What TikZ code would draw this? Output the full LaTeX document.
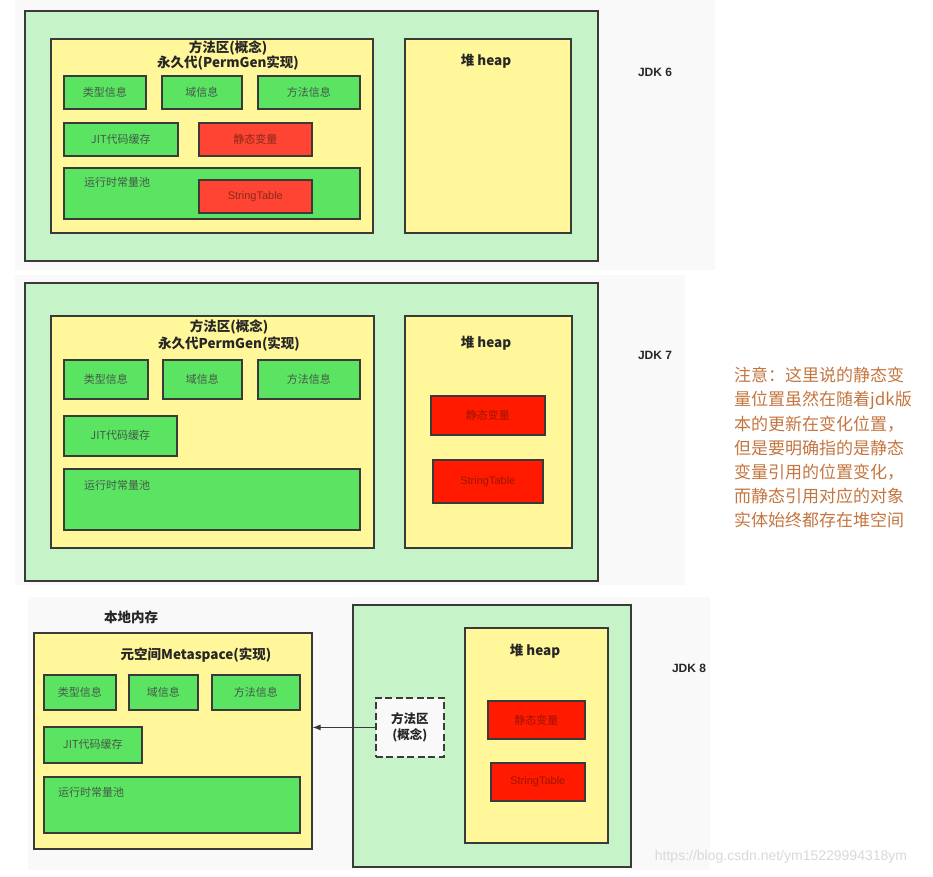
\documentclass[tikz,border=0pt]{standalone}
\usepackage{fontspec}
\setmainfont{Noto Sans CJK SC}
\newfontfamily\wmfont{Liberation Sans}
\usetikzlibrary{arrows.meta}
\definecolor{outerg}{HTML}{C6F4C8}
\definecolor{yel}{HTML}{FFF799}
\definecolor{gbox}{HTML}{5BE462}
\definecolor{rboxa}{HTML}{FF4433}
\definecolor{rboxb}{HTML}{FF1A00}
\definecolor{bd}{HTML}{3A3A3A}
\definecolor{notec}{HTML}{C47640}
\definecolor{bgl}{HTML}{F9F9F9}
\definecolor{labc}{HTML}{44584A}
\definecolor{rlab}{HTML}{8A2A1A}
\definecolor{rlabb}{HTML}{A01500}
\definecolor{wm}{HTML}{D9D9D9}
\newcommand{\bx}[7]{\node[#6, anchor=north west, inner sep=0pt, minimum width=#4pt-#2pt, minimum height=#5pt-#3pt] (#1) at (#2,#3) {#7};}
\tikzset{
  panel/.style={draw=bd, line width=1.6pt, fill=outerg},
  area/.style={draw=bd, line width=1.6pt, fill=yel},
  gb/.style={draw=bd, line width=1.6pt, fill=gbox, text=labc, font=\fontsize{11}{13}\selectfont},
  rba/.style={draw=bd, line width=1.6pt, fill=rboxa, text=rlab, font=\fontsize{11}{13}\selectfont},
  rbb/.style={draw=bd, line width=1.6pt, fill=rboxb, text=rlabb, font=\fontsize{11}{13}\selectfont},
  concept/.style={draw=bd, line width=1.8pt, dash pattern=on 7pt off 3.5pt, fill=bgl, font=\bfseries\fontsize{12.5}{16}\selectfont, align=center, text=black!85},
  ttl/.style={font=\bfseries\fontsize{13.5}{15}\selectfont, text=black!85, inner sep=0pt},
  inlab/.style={font=\fontsize{11}{13}\selectfont, text=labc, inner sep=0pt},
  jdk/.style={font=\wmfont\bfseries\fontsize{12}{14}\selectfont, text=black!85, inner sep=0pt},
}
\begin{document}
\begin{tikzpicture}[x=1pt,y=-1pt]
\useasboundingbox (0,0) rectangle (933,876);
\fill[white] (0,0) rectangle (933,876);
% light backgrounds
\fill[bgl] (15,0) rectangle (715,270);
\fill[bgl] (15,275) rectangle (685,585);
\fill[bgl] (28,597) rectangle (710,870);

% ===== JDK 6 =====
\bx{outer1}{24}{10}{597}{260}{panel}{}
\bx{yel1}{50}{38}{372}{232}{area}{}
\node[ttl] (t1a) at (228,48) {方法区(概念)};
\node[ttl] (t1b) at (228,63) {永久代(PermGen实现)};
\bx{lx1}{63}{75}{145}{108}{gb}{类型信息}
\bx{fx1}{161}{75}{241}{108}{gb}{域信息}
\bx{mx1}{257}{75}{359}{108}{gb}{方法信息}
\bx{jit1}{63}{122}{177}{155}{gb}{JIT代码缓存}
\bx{sv1}{198}{122}{311}{155}{rba}{静态变量}
\bx{rcp1}{63}{167}{359}{218}{gb}{}
\node[inlab] (rl1) at (117,182) {运行时常量池};
\bx{st1}{198}{179}{311}{212}{rba}{\wmfont StringTable}
\bx{heap1}{404}{38}{570}{232}{area}{}
\node[ttl] (h1) at (486,61) {堆 heap};
\node[jdk] (jdk6) at (655,72) {JDK 6};

% ===== JDK 7 =====
\bx{outer2}{24}{282}{597}{580}{panel}{}
\bx{yel2}{50}{315}{373}{547}{area}{}
\node[ttl] (t2a) at (229,327) {方法区(概念)};
\node[ttl] (t2b) at (229,344) {永久代PermGen(实现)};
\bx{lx2}{63}{359}{147}{398}{gb}{类型信息}
\bx{fx2}{162}{359}{241}{398}{gb}{域信息}
\bx{mx2}{257}{359}{359}{398}{gb}{方法信息}
\bx{jit2}{63}{415}{176}{455}{gb}{JIT代码缓存}
\bx{rcp2}{63}{468}{359}{529}{gb}{}
\node[inlab] (rl2) at (117,485) {运行时常量池};
\bx{heap2}{404}{315}{571}{547}{area}{}
\node[ttl] (h2) at (486,343) {堆 heap};
\bx{sv2}{430}{395}{544}{434}{rbb}{静态变量}
\bx{st2}{432}{459}{542}{502}{rbb}{\wmfont StringTable}
\node[jdk] (jdk7) at (655,355) {JDK 7};

% ===== JDK 8 =====
\node[ttl] (local) at (131,617) {本地内存};
\bx{meta}{33}{632}{311}{848}{area}{}
\node[ttl] (t3) at (196,655) {元空间Metaspace(实现)};
\bx{lx3}{43}{674}{115}{709}{gb}{类型信息}
\bx{fx3}{128}{674}{197}{709}{gb}{域信息}
\bx{mx3}{211}{674}{299}{709}{gb}{方法信息}
\bx{jit3}{43}{726}{141}{762}{gb}{JIT代码缓存}
\bx{rcp3}{43}{776}{299}{832}{gb}{}
\node[inlab] (rl3) at (91,792) {运行时常量池};
\bx{outer3}{352}{604}{630}{866}{panel}{}
\bx{heap3}{464}{627}{607}{842}{area}{}
\node[ttl] (h3) at (535,651) {堆 heap};
\bx{sv3}{487}{700}{584}{738}{rbb}{静态变量}
\bx{st3}{490}{762}{584}{800}{rbb}{\wmfont StringTable}
\bx{mc}{375}{697}{443}{756}{concept}{方法区\\(概念)}
\draw[-{Latex[length=8pt,width=6pt]}, draw=bd, line width=0.8pt] (mc.west) -- (meta.east |- mc.west);
\node[jdk] (jdk8) at (689,668) {JDK 8};

% ===== note =====
\node[anchor=north west, inner sep=0pt, align=left, text=notec,
      font=\fontsize{17}{24.2}\selectfont] (note) at (734,367)
  {注意：这里说的静态变\\量位置虽然在随着jdk版\\本的更新在变化位置，\\但是要明确指的是静态\\变量引用的位置变化，\\而静态引用对应的对象\\实体始终都存在堆空间};

% watermark
\node[inner sep=0pt, text=wm, font=\wmfont\fontsize{14}{16}\selectfont] (wmk) at (781,857) {https://blog.csdn.net/ym15229994318ym};
\end{tikzpicture}
\end{document}
